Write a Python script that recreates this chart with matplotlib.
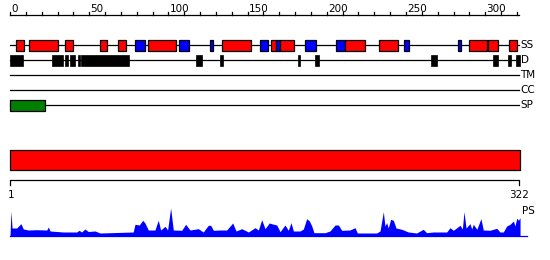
import matplotlib
matplotlib.use("Agg")
import matplotlib.pyplot as plt
import matplotlib.patches as patches

# sequence length
seq_len = 322

# secondary structure (H = helix, E = strand), residue ranges
ss_type = ["H", "H", "H", "H", "H", "E", "H", "E", "E", "H", "E", "H", "E", "H",
           "E", "E", "H", "H", "E", "E", "H", "H", "H"]
ss_start = [4, 12, 35, 57, 68, 79, 87, 107, 126, 134, 158, 165, 168, 170.5,
            186, 206, 211.5, 233, 249, 283, 290, 302, 315]
ss_end = [9, 30, 40, 61, 73, 85, 105, 113, 128, 152, 163, 168, 170.5, 179,
          193, 211.5, 224, 245, 252, 285, 301, 308, 320]

# disordered regions
dis_start = [0, 26.7, 34.5, 38, 42.7, 45, 117.6, 132.4, 182, 192.5, 265.8, 305, 314.4, 319.4]
dis_end = [8, 33.3, 36.4, 41, 44.2, 75, 121.2, 134.3, 183, 195, 269.4, 308, 316, 322]

# signal peptide
sp_start = [0]
sp_end = [22]

# PS profile (residue, score)
ps_pos = [0, 0.6, 1.3, 4.2, 6.9, 8.4, 11.6, 16.8, 23.2, 24.2, 25.3, 33.7, 42.1, 43.6,
          45.2, 47.3, 49.4, 53.7, 56.8, 67.4, 77.8, 78.9, 81.6, 83.8, 85.2, 87.3,
          91.5, 93.6, 95.1, 97.9, 99.5, 101.4, 103.1, 108.4, 110.9, 113.6, 118.9,
          122, 125.2, 126.7, 128.4, 132.6, 136.8, 140.6, 142.7, 146.3, 150.5,
          154.7, 156.8, 158.9, 161, 163.7, 165.8, 168.4, 170.5, 173.6, 175.7,
          177.4, 178.9, 183.1, 185.2, 187.3, 189, 190.5, 191.9, 198.9, 202,
          205.2, 207.3, 209.4, 214.6, 217.8, 219.3, 231.5, 233.6, 235.7, 236.7,
          237.8, 238.8, 240.3, 242, 243.7, 247.3, 251.5, 256.7, 260.9, 263,
          267.2, 275.7, 277.8, 279.9, 284.1, 285.6, 286.6, 287.9, 290.4, 291.5,
          292.5, 294.7, 297.3, 298.8, 303, 307.3, 309.3, 311.4, 313.6, 315.7,
          317.8, 318.8, 319.9, 321, 322]
ps_val = [0, 25, 8, 8, 12.3, 7, 6, 6.3, 6, 9, 5, 4, 4, 5.7,
          4, 7, 4.5, 5, 3, 3.5, 4, 11.7, 11, 15.7, 13, 6,
          6, 15.7, 6, 9.7, 6, 28, 6, 5.7, 11.7, 6, 7.3,
          4, 10.7, 10.7, 5.7, 6, 6, 13, 5, 7.3, 4,
          8.3, 6, 16.3, 7.3, 13, 12, 11, 4.3, 11, 5.7,
          13.3, 5, 5, 7, 17.3, 15, 10, 3.3, 3.3, 5,
          11, 11, 5.7, 6, 8.3, 3, 3, 5, 24.3, 10,
          13.3, 8, 16.7, 15.7, 8, 6.7, 4, 3, 6.7, 3.3,
          4, 4, 8.3, 5.7, 10.7, 7, 24.3, 8, 12.3, 7,
          11.7, 6.7, 17.3, 6, 5.7, 7.7, 4, 4, 10, 11.7,
          15, 10, 17.7, 15.7, 18.3]

row_labels = ["SS", "D", "TM", "CC", "SP"]
row_y = [45, 60, 75, 90, 105]

ss_colors = {"H": "#ff0000", "E": "#0000ff"}

px = 1.584  # pixels per residue
x0 = 10     # pixel of residue 0

fig = plt.figure(figsize=(5.5, 2.6), dpi=100)
ax = fig.add_axes([0, 0, 1, 1])
ax.set_xlim(-x0 / px, (550 - x0) / px)
ax.set_ylim(260, 0)
ax.axis("off")

lw = 0.9
fs = 7.5

# ruler on top
ax.plot([0, seq_len - 0.5], [15, 15], color="black", lw=lw)
for t in range(0, seq_len, 10):
    ax.plot([t, t], [12, 15], color="black", lw=lw)
    if t % 50 == 0:
        ax.text(t + 1 / px, 9, str(t), fontsize=fs, ha="left", va="center")

# track lines and labels
for lab, y in zip(row_labels, row_y):
    ax.plot([0, seq_len - 0.5], [y, y], color="black", lw=lw, zorder=1)
    ax.text(seq_len + 0.3, y, lab, fontsize=fs, ha="left", va="center")

# secondary structure boxes
for t, s, e in zip(ss_type, ss_start, ss_end):
    ax.add_patch(patches.Rectangle((s, 40), e - s, 10.5, facecolor=ss_colors[t],
                                   edgecolor="black", lw=lw, zorder=3))

# disorder boxes
for s, e in zip(dis_start, dis_end):
    ax.add_patch(patches.Rectangle((s, 54.5), e - s, 11, facecolor="black",
                                   edgecolor="black", lw=0.5, zorder=3))

# signal peptide
for s, e in zip(sp_start, sp_end):
    ax.add_patch(patches.Rectangle((s, 100), e - s, 10.5, facecolor="#008000",
                                   edgecolor="black", lw=lw, zorder=3))

# full length bar
ax.add_patch(patches.Rectangle((0, 149.5), seq_len, 20.5, facecolor="#ff0000",
                               edgecolor="black", lw=lw, zorder=3))

# bracket with ends
ax.plot([0, 0, seq_len - 0.5, seq_len - 0.5], [185, 180, 180, 185], color="black", lw=lw)
ax.text(0.5, 195, "1", fontsize=fs, ha="center", va="center")
ax.text(seq_len - 0.5, 195, str(seq_len), fontsize=fs, ha="center", va="center")
ax.text(seq_len + 1, 211, "PS", fontsize=fs, ha="left", va="center")

# PS profile
base = 236
ps_y = [base - v for v in ps_val]
ax.fill_between(ps_pos, ps_y, base, color="#0000ff", lw=0)
ax.plot([0, seq_len + 4.5], [base, base], color="#0000ff", lw=lw)

fig.savefig("out.png", dpi=100)
